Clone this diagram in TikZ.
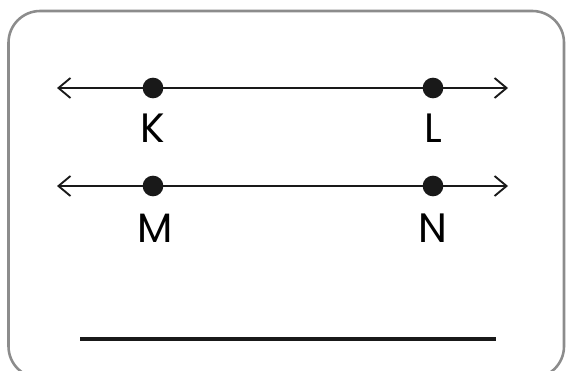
\documentclass[tikz,border=0pt]{standalone}
\usepackage{fontspec}
\setmainfont{Poppins}
\usetikzlibrary{arrows.meta}

\begin{document}
\begin{tikzpicture}[x=0.03cm, y=-0.03cm, line width=1.6pt]
    \tikzstyle{dot}=[circle, fill=black!90, minimum size=0.62cm, inner sep=0pt]
    \tikzstyle{letter}=[font=\fontsize{35}{38}\selectfont, inner sep=0pt]
    \tikzstyle{ray}=[{Straight Barb[length=0.36cm, width=0.6cm, line width=1.6pt]}-{Straight Barb[length=0.36cm, width=0.6cm, line width=1.6pt]}, black!90]
    \tikzstyle{frame}=[draw=black!45, line width=2.2pt, rounded corners=0.95cm]

    \useasboundingbox (0,0) rectangle (571,370);
    \begin{scope}
    \clip (0,0) rectangle (571,370);
    \draw[frame] (8.5,11) rectangle (564,378);
    \end{scope}

	% first line
	\coordinate (A-1) at (57,88);
	\coordinate (B-1) at (508,88);
	\node[dot] (K) at (153,88) {};
	\node[dot] (L) at (433,88) {};
	\node[letter] (K-lab) at (153,128) {K};
	\node[letter] (L-lab) at (433,128) {L};
	\draw[ray] (A-1) -- (B-1);

		 % second line
		 \coordinate (A-2) at (57,186);
		 \coordinate (B-2) at (508,186);
		 \node[dot] (M) at (153,186) {};
		 \node[dot] (N) at (433,186) {};
		 \node[letter] (M-lab) at (155,228) {M};
		 \node[letter] (N-lab) at (433,228) {N};
		 \draw[ray] (A-2) -- (B-2);

	 % answer line
	 \coordinate (C-1) at (80,339);
	 \coordinate (C-2) at (496,339);
	 \draw[line width=2.6pt, black!90] (C-1) -- (C-2);
\end{tikzpicture}
\end{document}
